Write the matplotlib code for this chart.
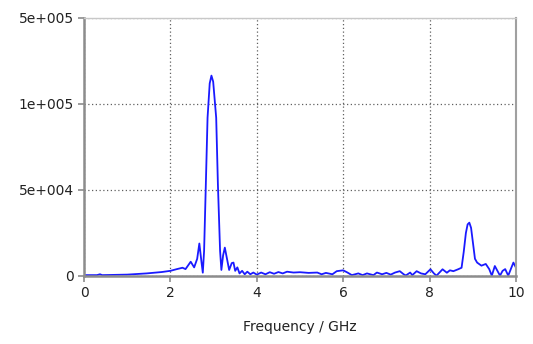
import numpy as np
import matplotlib.pyplot as plt

# 스펙트럼 데이터 (그림에서 읽은 값, 진폭 단위: 1e3)
freq_ghz = [0.0, 0.3, 0.37, 0.42, 1.0, 1.45, 1.8, 2.0, 2.15, 2.28, 2.35, 2.47, 2.55, 2.62,
            2.67, 2.72, 2.75, 2.78, 2.82, 2.86, 2.91, 2.95, 2.99, 3.06, 3.10, 3.15, 3.18,
            3.22, 3.26, 3.31, 3.36, 3.42, 3.46, 3.50, 3.55, 3.60, 3.66, 3.72, 3.78, 3.85,
            3.92, 4.0, 4.1, 4.2, 4.3, 4.4, 4.5, 4.6, 4.7, 4.85, 5.0, 5.2, 5.4, 5.5, 5.6,
            5.75, 5.85, 6.0, 6.1, 6.2, 6.35, 6.45, 6.55, 6.7, 6.78, 6.9, 7.0, 7.1, 7.2,
            7.31, 7.4, 7.45, 7.55, 7.6, 7.7, 7.8, 7.9, 8.02, 8.1, 8.16, 8.3, 8.4, 8.47,
            8.55, 8.66, 8.74, 8.79, 8.84, 8.88, 8.92, 8.96, 9.01, 9.05, 9.1, 9.2, 9.3,
            9.38, 9.44, 9.51, 9.57, 9.63, 9.69, 9.75, 9.82, 9.88, 9.94, 10.0]
amp_k = [0.5, 0.5, 1.0, 0.5, 0.8, 1.5, 2.3, 3.0, 4.0, 4.8, 4.0, 8.3, 5.0, 10.0,
         18.9, 8.0, 1.9, 14.6, 53.0, 92.0, 112.0, 116.5, 113.0, 92.0, 53.0, 14.6, 3.5,
         12.0, 16.5, 10.0, 3.5, 7.5, 7.8, 3.0, 5.0, 1.5, 3.0, 1.0, 2.5, 1.0,
         2.0, 0.8, 2.0, 1.0, 2.2, 1.3, 2.3, 1.5, 2.5, 2.0, 2.2, 1.8, 2.0, 1.0, 1.8,
         1.0, 2.8, 3.3, 2.0, 0.5, 1.5, 0.5, 1.5, 0.5, 2.0, 1.0, 1.8, 0.8, 2.0,
         2.8, 1.0, 0.3, 2.0, 0.5, 2.8, 1.5, 1.0, 3.9, 1.5, 0.2, 3.9, 1.9, 3.3,
         2.8, 3.9, 4.8, 14.0, 25.0, 30.0, 31.0, 28.0, 18.0, 10.0, 7.8, 6.0, 7.0,
         4.0, 0.2, 5.8, 3.0, 0.2, 3.0, 4.0, 0.2, 4.0, 7.8, 4.8]

y_ticks = [0, 50000, 100000, 150000]
y_tick_labels = ["0", "5e+004", "1e+005", "5e+005"]
x_ticks = [0, 2, 4, 6, 8, 10]

fig = plt.figure(figsize=(5.33, 3.44), dpi=100)
ax = fig.add_axes([0.1576, 0.1977, 0.8105, 0.75])

ax.plot(freq_ghz, np.array(amp_k) * 1000, color='#1a1aff', linewidth=1.3)

ax.set_xlim(0, 10)
ax.set_ylim(0, 150000)
ax.set_xticks(x_ticks)
ax.set_xticklabels([str(t) for t in x_ticks])
ax.set_yticks(y_ticks)
ax.set_yticklabels(y_tick_labels)
ax.grid(True, color='#606060', linestyle=(0, (1, 2)), linewidth=0.9)

for side in ['left', 'bottom']:
    ax.spines[side].set_color('#8c8c8c')
    ax.spines[side].set_linewidth(1.8)
ax.spines['right'].set_color('#a0a0a0')
ax.spines['right'].set_linewidth(1.5)
ax.spines['top'].set_color('#c8c8c8')
ax.spines['top'].set_linewidth(1.0)

ax.tick_params(axis='both', colors='#8c8c8c', labelcolor='#222222', labelsize=10,
               length=4, width=1.2)
ax.set_xlabel('Frequency / GHz', fontsize=10, color='#222222', labelpad=14)

plt.savefig('out.png', dpi=100)
